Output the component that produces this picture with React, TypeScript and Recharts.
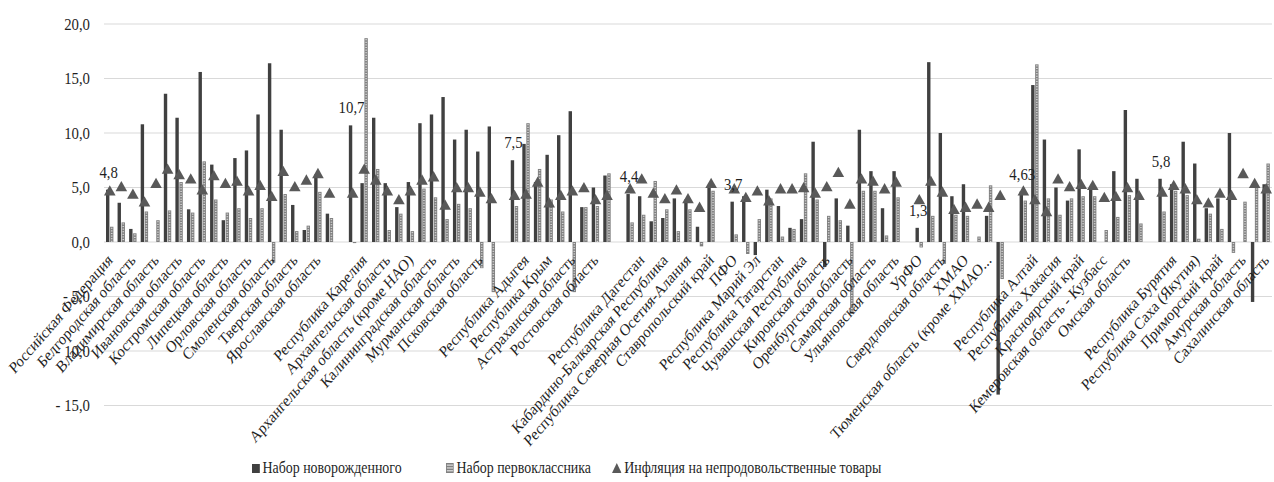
import { ComposedChart, Bar, Line, XAxis, YAxis, CartesianGrid, LabelList } from "recharts";

const categories = [
  "Российская Федерация", "ЦФО", "Белгородская область", "Брянская область", "Владимирская область",
  "Воронежская область", "Ивановская область", "Калужская область", "Костромская область", "Курская область",
  "Липецкая область", "Московская область", "Орловская область", "Рязанская область", "Смоленская область",
  "Тамбовская область", "Тверская область", "Тульская область", "Ярославская область", "г. Москва",
  "", "СЗФО", "Республика Карелия", "Республика Коми", "Архангельская область",
  "Ненецкий АО", "Архангельская область (кроме НАО)", "Вологодская область", "Калининградская область", "Ленинградская область",
  "Мурманская область", "Новгородская область", "Псковская область", "г. Санкт-Петербург", "",
  "ЮФО", "Республика Адыгея", "Республика Калмыкия", "Республика Крым", "Краснодарский край",
  "Астраханская область", "Волгоградская область", "Ростовская область", "г. Севастополь", "",
  "СКФО", "Республика Дагестан", "Республика Ингушетия", "Кабардино-Балкарская Республика", "Карачаево-Черкесская Республика",
  "Республика Северная Осетия-Алания", "Чеченская Республика", "Ставропольский край", "", "ПФО",
  "Республика Башкортостан", "Республика Марий Эл", "Республика Мордовия", "Республика Татарстан", "Удмуртская Республика",
  "Чувашская Республика", "Пермский край", "Кировская область", "Нижегородская область", "Оренбургская область",
  "Пензенская область", "Самарская область", "Саратовская область", "Ульяновская область", "",
  "УрФО", "Курганская область", "Свердловская область", "Тюменская область", "ХМАО",
  "ЯНАО", "Тюменская область (кроме ХМАО и ЯНАО)", "Челябинская область", "", "СФО",
  "Республика Алтай", "Республика Тыва", "Республика Хакасия", "Алтайский край", "Красноярский край",
  "Иркутская область", "Кемеровская область - Кузбасс", "Новосибирская область", "Омская область", "Томская область",
  "", "ДФО", "Республика Бурятия", "Забайкальский край", "Республика Саха (Якутия)",
  "Камчатский край", "Приморский край", "Хабаровский край", "Амурская область", "Магаданская область",
  "Сахалинская область",
];

const newborn = [
  4.8, 3.6, 1.2, 10.8, 0, 13.6, 11.4, 3.0, 15.6, 7.1,
  2.0, 7.7, 8.4, 11.7, 16.4, 10.3, 3.4, 1.1, 6.2, 2.6,
  null, 10.7, 5.4, 11.4, 5.4, 3.2, 5.5, 10.9, 11.7, 13.3,
  9.4, 10.3, 8.3, 10.6, null, 7.5, 9.0, 5.5, 8.0, 9.8,
  12.0, 3.2, 5.0, 6.1, null, 4.4, 4.2, 1.9, 2.2, 4.0,
  3.9, 1.4, 5.2, null, 3.7, 4.2, -1.2, 4.8, 3.3, 1.3,
  2.1, 9.2, -2.3, 4.0, 1.5, 10.3, 6.5, 3.1, 6.5, null,
  1.3, 16.5, 10.0, 4.2, 5.3, 0, 2.4, -14.0, null, 4.63,
  14.4, 9.4, 5.0, 3.8, 8.5, 5.1, 0, 6.5, 12.1, 5.8,
  null, 5.8, 5.3, 9.2, 7.2, 3.1, 4.0, 10.0, 0, -5.5,
  5.3,
];

const firstGrader = [
  1.4, 1.8, 0.8, 2.8, 2.0, 2.9, 5.5, 2.7, 7.4, 3.9,
  2.7, 3.1, 2.2, 3.1, -1.9, 4.4, 1.0, 1.5, 4.6, 2.2,
  null, -0.1, 18.7, 6.7, 1.1, 2.6, 1.0, 4.9, 4.1, 2.1,
  3.5, 3.1, -2.4, -4.6, null, 3.3, 10.9, 6.7, 3.9, 2.8,
  -4.6, 3.2, 3.3, 6.3, null, 1.8, 2.5, 5.6, 3.0, 1.0,
  3.0, -0.4, 4.7, null, 0.7, -1.1, 2.1, 4.0, 0.5, 1.2,
  6.3, 3.9, 2.4, 2.0, -6.6, 4.7, 4.7, 0.6, 4.1, null,
  -0.5, 2.4, -2.0, 2.5, 2.4, 0.5, 5.2, -3.4, null, 3.8,
  16.3, 4.0, 2.5, 4.0, 4.2, 4.2, 1.1, 2.3, 4.3, 1.7,
  null, 2.8, 4.7, 4.3, 0.3, 2.6, 1.2, -1.0, 3.7, 5.0,
  7.2,
];

const inflation = [
  4.7, 5.1, 4.4, 3.7, 5.4, 6.7, 6.2, 5.8, 4.8, 6.1,
  5.4, 5.6, 4.7, 5.2, 4.2, 6.5, 5.1, 5.7, 6.3, 4.5,
  null, 4.5, 6.7, 5.7, 4.7, 3.9, 4.7, 5.7, 6.0, 3.4,
  5.0, 5.0, 4.6, 4.0, null, 4.3, 4.4, 5.5, 3.6, 4.3,
  4.7, 5.0, 3.9, 4.3, null, 4.9, 5.8, 4.5, 4.0, 4.8,
  4.0, 3.2, 5.4, null, 4.9, 4.1, 4.7, 3.8, 4.9, 4.9,
  5.0, 4.5, 5.1, 6.4, 3.5, 5.8, 5.6, 4.9, 5.5, null,
  3.9, 5.6, 4.6, 3.0, 3.2, 3.5, 3.2, 4.3, null, 4.7,
  3.9, 2.8, 5.8, 5.1, 5.3, 5.2, 4.1, 4.2, 5.0, 4.3,
  null, 4.6, 5.2, 4.9, 3.9, 3.6, 4.5, 4.3, 6.3, 5.4,
  4.9,
];

// categories whose newborn bar carries a data label
const labeledCats = ["Российская Федерация", "СЗФО", "ЮФО", "СКФО", "ПФО", "УрФО", "СФО", "ДФО"];

const yTicks = [-15, -10, -5, 0, 5, 10, 15, 20];

const data = categories.map((name, i) => ({
  name,
  newborn: newborn[i],
  firstGrader: firstGrader[i],
  inflation: inflation[i],
  lbl: labeledCats.includes(name) ? newborn[i] : null,
}));

const W = 1274;
const H = 482;
const M_TOP = 24;
const M_BOTTOM = 75.5;
const X_H = 1;
const plotH = H - M_TOP - M_BOTTOM - X_H;
const Y_MIN = -15;
const Y_MAX = 20;
const zeroShift = (plotH * (0 - Y_MIN)) / (Y_MAX - Y_MIN);

// the source picture is squeezed horizontally, so text is narrowed the same way
const SQ = 0.87;
const FONT = "Liberation Serif, Times New Roman, serif";
const TEXT = "#1f1f1f";
const DARK = "#404040";
const GREY = "#808080";
const STRIPE = "#d6d6d6";
const TRI = "#595959";

const fmt = (v: number) => {
  const s = Math.abs(v).toFixed(1).replace(".", ",");
  return v < 0 ? "- " + s : s;
};

const shortName = (s: string) => (s.length > 34 ? s.slice(0, 29) + "..." : s);

const CatTick = (p: any) => {
  const { x, y, payload } = p;
  const ty = y - zeroShift + 15;
  return (
    <text
      transform={`translate(${x} ${ty}) scale(${SQ} 1) rotate(-45)`}
      dy="0.35em"
      textAnchor="end"
      style={{ fontFamily: FONT, fontSize: 16.5 }}
      fill={TEXT}
    >
      {shortName(String(payload.value))}
    </text>
  );
};

const ValTick = (p: any) => {
  const { x, y, payload } = p;
  return (
    <text
      transform={`translate(${x} ${y}) scale(${SQ} 1)`}
      dy="0.35em"
      textAnchor="end"
      style={{ fontFamily: FONT, fontSize: 17 }}
      fill={TEXT}
    >
      {fmt(payload.value)}
    </text>
  );
};

const Hatched = (p: any) => {
  const { x, y, width, height } = p;
  if (!height || x == null) return <g />;
  const top = height < 0 ? y + height : y;
  const h = Math.abs(height);
  const stripes = [];
  for (let yy = top + 1; yy < top + h - 1; yy += 2.6) {
    stripes.push(
      <rect key={yy} x={x + 0.9} y={yy} width={Math.max(width - 1.8, 0.5)} height={1.1} fill={STRIPE} />
    );
  }
  return (
    <g>
      <rect x={x} y={top} width={width} height={h} fill={GREY} />
      {stripes}
    </g>
  );
};

const Tri = (p: any) => {
  const { cx, cy, value, index } = p;
  if (cx == null || cy == null || value == null) return <g key={`t${index}`} />;
  return (
    <polygon
      key={`t${index}`}
      points={`${cx},${cy - 5.5} ${cx + 5.8},${cy + 4.8} ${cx - 5.8},${cy + 4.8}`}
      fill={TRI}
    />
  );
};

const BarLabel = (p: any) => {
  const { x, y, width, value } = p;
  if (value == null || x == null) return null;
  return (
    <text
      transform={`translate(${x + width / 2 + 1} ${y - 12}) scale(${SQ} 1)`}
      textAnchor="middle"
      style={{ fontFamily: FONT, fontSize: 17 }}
      fill={TEXT}
    >
      {String(value).replace(".", ",")}
    </text>
  );
};

const legendItem = (left: number, icon: any, label: string) => (
  <div
    style={{
      position: "absolute",
      left,
      top: 459,
      display: "flex",
      alignItems: "center",
      fontFamily: FONT,
      fontSize: 16,
      color: TEXT,
      whiteSpace: "nowrap",
      transform: `scaleX(${SQ})`,
      transformOrigin: "left center",
    }}
  >
    {icon}
    <span style={{ marginLeft: 3 }}>{label}</span>
  </div>
);

export default function App() {
  return (
    <div style={{ position: "absolute", left: 0, top: 0, width: W, height: H, background: "#fff", fontFamily: FONT }}>
      <ComposedChart
        width={W}
        height={H}
        data={data}
        margin={{ top: M_TOP, right: 2, left: 0, bottom: M_BOTTOM }}
        barSize={3.4}
        barGap={0.6}
      >
        <CartesianGrid vertical={false} stroke="#d9d9d9" strokeWidth={1.2} />
        <XAxis
          dataKey="name"
          interval={1}
          height={X_H}
          axisLine={false}
          tickLine={false}
          tickSize={0}
          tickMargin={0}
          tick={<CatTick />}
        />
        <YAxis
          domain={[Y_MIN, Y_MAX]}
          ticks={yTicks}
          width={104}
          axisLine={false}
          tickLine={false}
          tickSize={0}
          tickMargin={14}
          tick={<ValTick />}
        />
        <Bar dataKey="newborn" fill={DARK} isAnimationActive={false}>
          <LabelList dataKey="lbl" content={<BarLabel />} />
        </Bar>
        <Bar dataKey="firstGrader" shape={<Hatched />} isAnimationActive={false} />
        <Line
          dataKey="inflation"
          stroke="none"
          dot={<Tri />}
          activeDot={false}
          isAnimationActive={false}
        />
      </ComposedChart>
      {legendItem(
        252,
        <span style={{ width: 9, height: 9, background: DARK, display: "inline-block" }} />,
        "Набор новорожденного"
      )}
      {legendItem(
        446,
        <svg width={9} height={10}>
          <rect x={0} y={0} width={9} height={10} fill={GREY} />
          <rect x={1} y={1.5} width={7} height={1.3} fill={STRIPE} />
          <rect x={1} y={4.3} width={7} height={1.3} fill={STRIPE} />
          <rect x={1} y={7.1} width={7} height={1.3} fill={STRIPE} />
        </svg>,
        "Набор первоклассника"
      )}
      {legendItem(
        612,
        <svg width={11} height={10}>
          <polygon points="5.5,0 11,10 0,10" fill={TRI} />
        </svg>,
        "Инфляция на непродовольственные товары"
      )}
    </div>
  );
}
